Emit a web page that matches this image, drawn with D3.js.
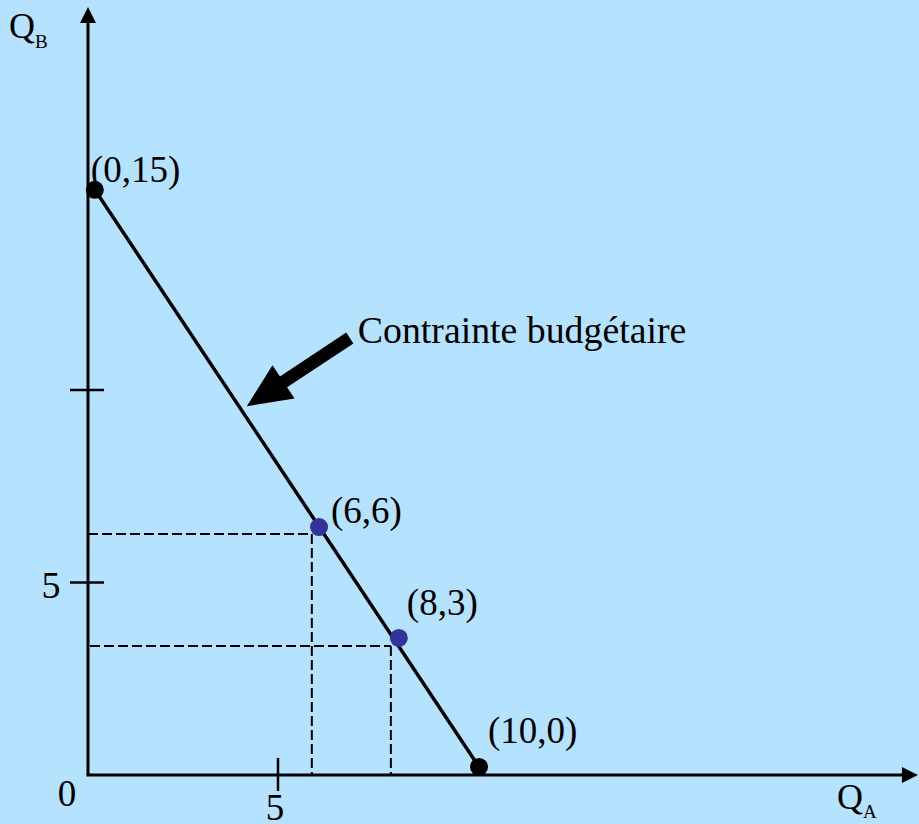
<!DOCTYPE html>
<html>
<head>
<meta charset="utf-8">
<script src="https://cdn.jsdelivr.net/npm/d3@7"></script>
<style>
  html, body { margin: 0; padding: 0; background: #b5e2fe; }
  svg { display: block; font-family: "Liberation Serif", "Times New Roman", serif; }
</style>
</head>
<body>
<div id="chart"></div>
<script>
// budget constraint diagram: Q_A on x, Q_B on y
const pointLabels = ["(0,15)", "(6,6)", "(8,3)", "(10,0)"];
// positions as drawn in the picture (axis units)
const pointX = [0.18, 6.08, 8.18, 10.29];
const pointY = [15.2, 6.44, 3.56, 0.21];
const pointKind = ["end", "choice", "choice", "end"];

// dashed guides for the chosen bundles
const guideX = [5.89, 7.97];
const guideY = [6.26, 3.35];

const yTicks = [5, 10];
const yTickLabels = ["5", ""];
const xTicks = [5];
const xTickLabels = ["5"];

const annotText = "Contrainte budgétaire";
const annotFrom = [6.89, 11.35];
const annotTo = [4.18, 9.58];

const width = 919, height = 824;

const x = d3.scaleLinear().domain([0, 10]).range([88, 468]);
const y = d3.scaleLinear().domain([0, 10]).range([775, 390]);
const xMax = 21.84, yMax = 19.95;

const svg = d3.select("#chart").append("svg")
  .attr("width", width).attr("height", height)
  .attr("viewBox", `0 0 ${width} ${height}`);

svg.append("rect").attr("width", width).attr("height", height).attr("fill", "#b5e2fe");

// dashed guides
const guides = guideX.map((gx, i) => ({gx, gy: guideY[i]}));
svg.selectAll("line.gh").data(guides).join("line")
  .attr("class", "gh")
  .attr("x1", (d, i) => i === 0 ? x(0) : x(0) + 2).attr("x2", d => x(d.gx))
  .attr("y1", d => y(d.gy)).attr("y2", d => y(d.gy))
  .attr("stroke", "#000").attr("stroke-width", 2).attr("stroke-dasharray", "10,4");
svg.selectAll("line.gv").data(guides).join("line")
  .attr("class", "gv")
  .attr("x1", d => x(d.gx)).attr("x2", d => x(d.gx))
  .attr("y1", d => y(d.gy)).attr("y2", y(0))
  .attr("stroke", "#000").attr("stroke-width", 2).attr("stroke-dasharray", "10,4");

// axes
svg.append("line")
  .attr("x1", x(0)).attr("y1", y(0)).attr("x2", x(0)).attr("y2", y(yMax) + 14)
  .attr("stroke", "#000").attr("stroke-width", 3);
svg.append("path")
  .attr("d", `M${x(0)},${y(yMax)} L${x(0) - 8},${y(yMax) + 16} L${x(0) + 8},${y(yMax) + 16} Z`)
  .attr("fill", "#000");
svg.append("line")
  .attr("x1", x(0) - 1.5).attr("y1", y(0)).attr("x2", x(xMax) - 14).attr("y2", y(0))
  .attr("stroke", "#000").attr("stroke-width", 3);
svg.append("path")
  .attr("d", `M${x(xMax)},${y(0)} L${x(xMax) - 16},${y(0) - 8} L${x(xMax) - 16},${y(0) + 8} Z`)
  .attr("fill", "#000");

// ticks
svg.selectAll("line.yt").data(yTicks).join("line")
  .attr("class", "yt")
  .attr("x1", x(0) - 18).attr("x2", x(0) + 16)
  .attr("y1", d => y(d)).attr("y2", d => y(d))
  .attr("stroke", "#000").attr("stroke-width", 2.5);
svg.selectAll("text.yl").data(yTicks).join("text")
  .attr("class", "yl")
  .attr("x", 51).attr("y", d => y(d) + 15)
  .attr("text-anchor", "middle").attr("font-size", 38)
  .text((d, i) => yTickLabels[i]);
svg.selectAll("line.xt").data(xTicks).join("line")
  .attr("class", "xt")
  .attr("x1", d => x(d)).attr("x2", d => x(d))
  .attr("y1", y(0) - 17).attr("y2", y(0) + 16)
  .attr("stroke", "#000").attr("stroke-width", 2.5);
svg.selectAll("text.xl").data(xTicks).join("text")
  .attr("class", "xl")
  .attr("x", d => x(d) - 3).attr("y", 820)
  .attr("text-anchor", "middle").attr("font-size", 37)
  .text((d, i) => xTickLabels[i]);
svg.append("text").attr("x", 67).attr("y", 806)
  .attr("text-anchor", "middle").attr("font-size", 37).text("0");

// axis titles
const qb = svg.append("text").attr("x", 9).attr("y", 38).attr("font-size", 36);
qb.append("tspan").text("Q");
qb.append("tspan").attr("font-size", 19).attr("dy", 10).text("B");
const qa = svg.append("text").attr("x", 837).attr("y", 809).attr("font-size", 36);
qa.append("tspan").text("Q");
qa.append("tspan").attr("font-size", 19).attr("dy", 9).text("A");

// budget line
const pts = pointX.map((px, i) => ({px, py: pointY[i], label: pointLabels[i], kind: pointKind[i]}));
svg.append("line")
  .attr("x1", x(pts[0].px)).attr("y1", y(pts[0].py))
  .attr("x2", x(pts[3].px)).attr("y2", y(pts[3].py))
  .attr("stroke", "#000").attr("stroke-width", 3.5);

// points
svg.selectAll("circle.pt").data(pts).join("circle")
  .attr("class", "pt")
  .attr("cx", d => x(d.px)).attr("cy", d => y(d.py))
  .attr("r", 9)
  .attr("fill", d => d.kind === "end" ? "#000" : "#333399");

const labelOffsets = [[-4, -8], [12, -4], [8, -23], [9, -24]];
svg.selectAll("text.pl").data(pts).join("text")
  .attr("class", "pl")
  .attr("x", (d, i) => x(d.px) + labelOffsets[i][0])
  .attr("y", (d, i) => y(d.py) + labelOffsets[i][1])
  .attr("font-size", 37)
  .text(d => d.label);

// annotation arrow
const ax0 = x(annotFrom[0]), ay0 = y(annotFrom[1]);
const ax1 = x(annotTo[0]), ay1 = y(annotTo[1]);
const len = Math.hypot(ax1 - ax0, ay1 - ay0);
const ux = (ax1 - ax0) / len, uy = (ay1 - ay0) / len;
const nx = -uy, ny = ux;
const headLen = 44, headW = 20, shaftW = 6.5;
const bx = ax1 - ux * headLen, by = ay1 - uy * headLen;
const arrowPts = [
  [ax0 + nx * shaftW, ay0 + ny * shaftW],
  [bx + nx * shaftW, by + ny * shaftW],
  [bx + nx * headW, by + ny * headW],
  [ax1, ay1],
  [bx - nx * headW, by - ny * headW],
  [bx - nx * shaftW, by - ny * shaftW],
  [ax0 - nx * shaftW, ay0 - ny * shaftW]
];
svg.append("path")
  .attr("d", d3.line()(arrowPts) + "Z")
  .attr("fill", "#000");

svg.append("text")
  .attr("x", x(annotFrom[0]) + 8).attr("y", y(11.22))
  .attr("font-size", 37.8)
  .text(annotText);
</script>
</body>
</html>
